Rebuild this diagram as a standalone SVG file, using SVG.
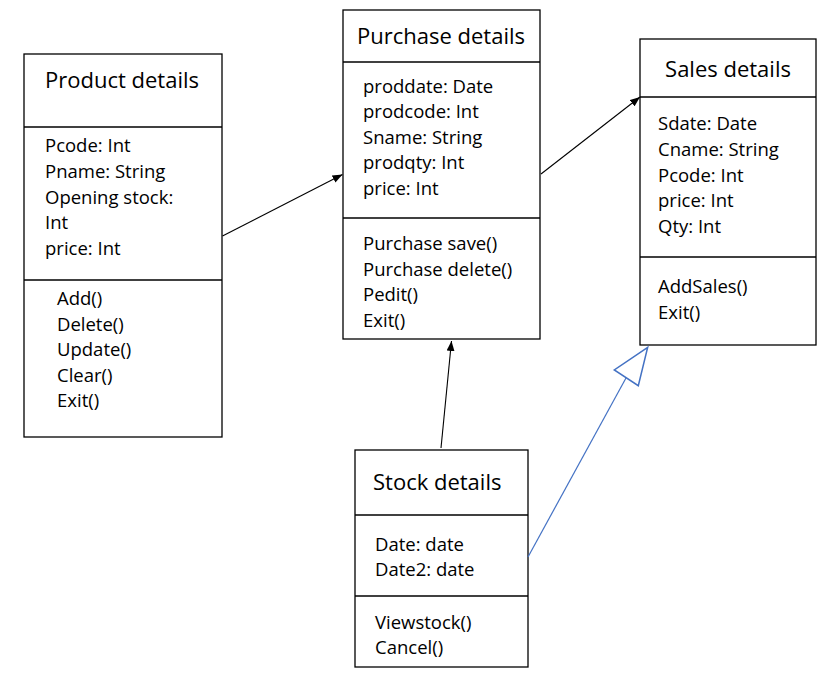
<svg xmlns="http://www.w3.org/2000/svg" width="832" height="680" viewBox="0 0 832 680">
<defs>
<marker id="arr" viewBox="0 0 10 8" refX="10" refY="4" markerWidth="10" markerHeight="8" markerUnits="userSpaceOnUse" orient="auto">
<path d="M0,0 L10,4 L0,8 Z" fill="#000"/>
</marker>
</defs>
<style>
.box{fill:#fff;stroke:#000;stroke-width:1.3}
.div{stroke:#000;stroke-width:1.3}
.t{font-family:"Open Sans",sans-serif;font-size:22px;fill:#000}
.b{font-family:"Open Sans",sans-serif;font-size:18.5px;fill:#000}
.c{stroke:#000;stroke-width:1.1;fill:none}
</style>
<rect width="832" height="680" fill="#fff"/>
<g id="product">
<rect class="box" x="24" y="54" width="198" height="383"/>
<line class="div" x1="24" y1="127" x2="222" y2="127"/>
<line class="div" x1="24" y1="280" x2="222" y2="280"/>
<text class="t" x="45" y="88">Product details</text>
<text class="b" x="45" y="152">Pcode: Int</text>
<text class="b" x="45" y="178">Pname: String</text>
<text class="b" x="45" y="204">Opening stock:</text>
<text class="b" x="45" y="229">Int</text>
<text class="b" x="45" y="255">price: Int</text>
<text class="b" x="57" y="305">Add()</text>
<text class="b" x="57" y="331">Delete()</text>
<text class="b" x="57" y="356">Update()</text>
<text class="b" x="57" y="382">Clear()</text>
<text class="b" x="57" y="407">Exit()</text>
</g>
<g id="purchase">
<rect class="box" x="343" y="10" width="197" height="329"/>
<line class="div" x1="343" y1="62" x2="540" y2="62"/>
<line class="div" x1="343" y1="218" x2="540" y2="218"/>
<text class="t" x="357" y="44">Purchase details</text>
<text class="b" x="363" y="93">proddate: Date</text>
<text class="b" x="363" y="118">prodcode: Int</text>
<text class="b" x="363" y="144">Sname: String</text>
<text class="b" x="363" y="169">prodqty: Int</text>
<text class="b" x="363" y="195">price: Int</text>
<text class="b" x="363" y="250">Purchase save()</text>
<text class="b" x="363" y="276">Purchase delete()</text>
<text class="b" x="363" y="301">Pedit()</text>
<text class="b" x="363" y="327">Exit()</text>
</g>
<g id="sales">
<rect class="box" x="640" y="39" width="176" height="306"/>
<line class="div" x1="640" y1="97" x2="816" y2="97"/>
<line class="div" x1="640" y1="257" x2="816" y2="257"/>
<text class="t" x="728" y="77" text-anchor="middle">Sales details</text>
<text class="b" x="658" y="130">Sdate: Date</text>
<text class="b" x="658" y="156">Cname: String</text>
<text class="b" x="658" y="182">Pcode: Int</text>
<text class="b" x="658" y="207">price: Int</text>
<text class="b" x="658" y="233">Qty: Int</text>
<text class="b" x="658" y="293">AddSales()</text>
<text class="b" x="658" y="319">Exit()</text>
</g>
<g id="stock">
<rect class="box" x="355" y="450" width="173" height="217"/>
<line class="div" x1="355" y1="515" x2="528" y2="515"/>
<line class="div" x1="355" y1="596" x2="528" y2="596"/>
<text class="t" x="373" y="490">Stock details</text>
<text class="b" x="375" y="551">Date: date</text>
<text class="b" x="375" y="576">Date2: date</text>
<text class="b" x="375" y="629">Viewstock()</text>
<text class="b" x="375" y="654">Cancel()</text>
</g>
<g id="connectors">
<line class="c" x1="222.5" y1="236" x2="342.5" y2="174.5" marker-end="url(#arr)"/>
<line class="c" x1="541" y1="174" x2="640" y2="97" marker-end="url(#arr)"/>
<line class="c" x1="441" y1="448" x2="451.5" y2="341" marker-end="url(#arr)"/>
<line x1="528" y1="557" x2="626" y2="378" stroke="#4472C4" stroke-width="1.2"/>
<polygon points="647.7,347.3 614.3,370 638.3,385.7" fill="#fff" stroke="#4472C4" stroke-width="1.5"/>
</g>
</svg>
